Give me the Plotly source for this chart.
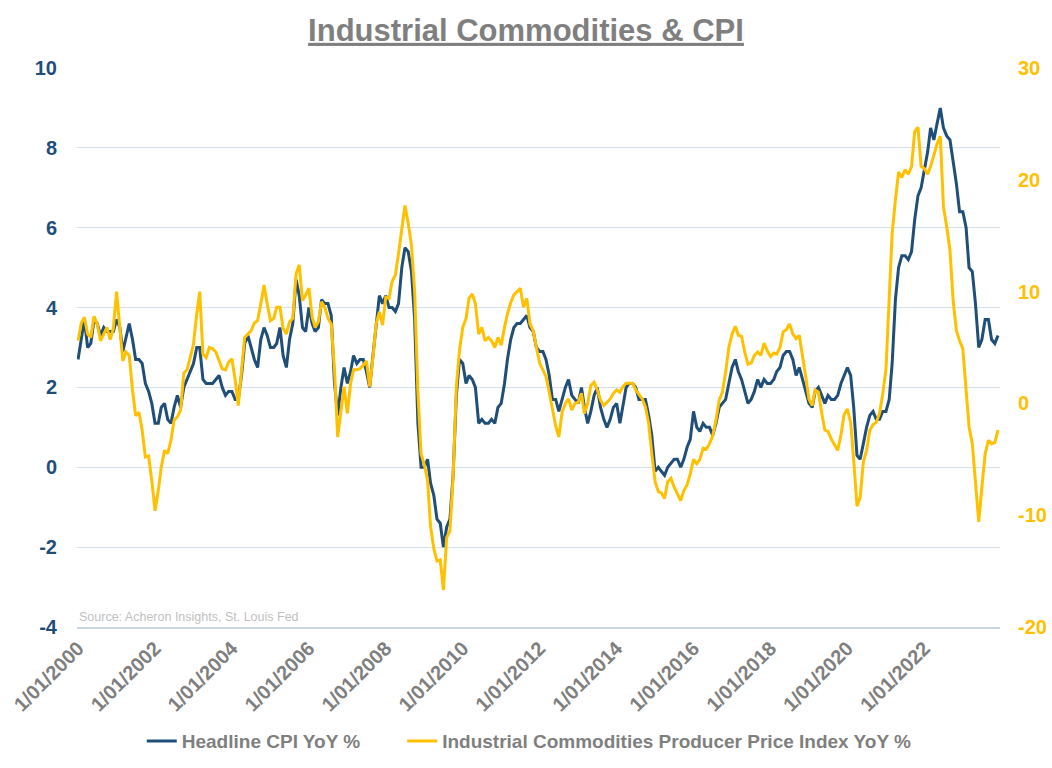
import plotly.graph_objects as go
import pandas as pd

# Monthly dates, Jan 2000 .. Dec 2023
dates = pd.date_range("2000-01-01", "2023-12-01", freq="MS")

# Headline CPI YoY % (left axis)
cpi_yoy = [
    2.7, 3.2, 3.7, 3.0, 3.1, 3.7, 3.6, 3.3, 3.5, 3.4, 3.4, 3.4,   # 2000
    3.7, 3.5, 2.9, 3.3, 3.6, 3.2, 2.7, 2.7, 2.6, 2.1, 1.9, 1.6,   # 2001
    1.1, 1.1, 1.5, 1.6, 1.2, 1.1, 1.5, 1.8, 1.5, 2.0, 2.2, 2.4,   # 2002
    2.6, 3.0, 3.0, 2.2, 2.1, 2.1, 2.1, 2.2, 2.3, 2.0, 1.8, 1.9,   # 2003
    1.9, 1.7, 1.7, 2.3, 3.1, 3.3, 3.0, 2.7, 2.5, 3.2, 3.5, 3.3,   # 2004
    3.0, 3.0, 3.1, 3.5, 2.8, 2.5, 3.2, 3.6, 4.7, 4.3, 3.5, 3.4,   # 2005
    4.0, 3.6, 3.4, 3.5, 4.2, 4.1, 4.1, 3.8, 2.1, 1.3, 2.0, 2.5,   # 2006
    2.1, 2.4, 2.8, 2.6, 2.7, 2.7, 2.4, 2.0, 2.8, 3.5, 4.3, 4.1,   # 2007
    4.3, 4.0, 4.0, 3.9, 4.1, 5.0, 5.5, 5.4, 4.9, 3.7, 1.1, 0.0,   # 2008
    0.0, 0.2, -0.4, -0.7, -1.3, -1.4, -2.0, -1.5, -1.3, -0.2, 1.8, 2.7,  # 2009
    2.6, 2.1, 2.3, 2.2, 2.0, 1.1, 1.2, 1.1, 1.1, 1.2, 1.1, 1.5,   # 2010
    1.6, 2.1, 2.7, 3.2, 3.5, 3.6, 3.6, 3.7, 3.8, 3.5, 3.4, 3.0,   # 2011
    2.9, 2.9, 2.7, 2.3, 1.7, 1.7, 1.4, 1.7, 2.0, 2.2, 1.8, 1.7,   # 2012
    1.6, 2.0, 1.5, 1.1, 1.4, 1.8, 2.0, 1.5, 1.2, 1.0, 1.2, 1.5,   # 2013
    1.6, 1.1, 1.5, 2.0, 2.1, 2.1, 2.0, 1.7, 1.7, 1.7, 1.3, 0.8,   # 2014
    -0.1, 0.0, -0.1, -0.2, 0.0, 0.1, 0.2, 0.2, 0.0, 0.2, 0.5, 0.7,  # 2015
    1.4, 1.0, 0.9, 1.1, 1.0, 1.0, 0.8, 1.1, 1.5, 1.6, 1.7, 2.1,   # 2016
    2.5, 2.7, 2.4, 2.2, 1.9, 1.6, 1.7, 1.9, 2.2, 2.0, 2.2, 2.1,   # 2017
    2.1, 2.2, 2.4, 2.5, 2.8, 2.9, 2.9, 2.7, 2.3, 2.5, 2.2, 1.9,   # 2018
    1.6, 1.5, 1.9, 2.0, 1.8, 1.6, 1.8, 1.7, 1.7, 1.8, 2.1, 2.3,   # 2019
    2.5, 2.3, 1.5, 0.3, 0.2, 0.6, 1.0, 1.3, 1.4, 1.2, 1.2, 1.4,   # 2020
    1.4, 1.7, 2.6, 4.2, 5.0, 5.3, 5.3, 5.2, 5.4, 6.2, 6.8, 7.0,   # 2021
    7.5, 7.9, 8.5, 8.2, 8.6, 9.0, 8.5, 8.3, 8.2, 7.7, 7.1, 6.4,   # 2022
    6.4, 6.0, 5.0, 4.9, 4.1, 3.0, 3.2, 3.7, 3.7, 3.2, 3.1, 3.3,   # 2023
]

# Industrial Commodities PPI YoY % (right axis)
ppi_yoy = [
    5.6, 7.2, 7.7, 6.2, 5.9, 7.8, 7.1, 5.6, 6.2, 6.8, 5.7, 6.7,   # 2000
    10.0, 6.8, 3.8, 4.6, 4.3, 1.2, -1.1, -0.8, -2.4, -4.8, -4.7, -6.9,  # 2001
    -9.6, -7.8, -5.7, -4.2, -4.5, -3.3, -1.5, -1.2, -0.6, 2.7, 3.0, 4.1,  # 2002
    5.3, 8.0, 10.0, 4.4, 4.1, 5.0, 4.9, 4.6, 3.8, 3.1, 3.0, 3.7,  # 2003
    4.0, 2.1, -0.2, 3.2, 5.9, 6.2, 6.5, 7.2, 7.4, 8.9, 10.6, 8.9,  # 2004
    7.4, 7.6, 8.6, 8.6, 6.7, 6.2, 7.3, 7.6, 11.6, 12.4, 9.2, 9.7,  # 2005
    10.3, 7.7, 6.8, 7.3, 9.1, 8.6, 7.6, 7.1, 3.0, -3.0, -0.6, 1.5,  # 2006
    -0.9, 1.8, 3.0, 3.0, 3.1, 3.4, 3.8, 1.5, 4.1, 7.1, 8.2, 7.0,  # 2007
    9.5, 9.4, 10.9, 11.5, 13.4, 15.8, 17.7, 16.1, 14.1, 10.0, 1.0, -4.5,  # 2008
    -5.5, -6.9, -11.0, -13.0, -14.1, -14.0, -16.7, -12.0, -11.4, -6.6, 1.5, 4.8,  # 2009
    6.8, 7.6, 9.4, 9.8, 8.9, 6.2, 6.8, 5.6, 5.9, 5.6, 5.0, 5.9,   # 2010
    5.2, 6.8, 8.0, 9.0, 9.7, 10.0, 10.3, 8.6, 9.4, 7.1, 6.5, 5.0,  # 2011
    3.6, 3.0, 2.4, 1.0, -0.5, -2.0, -3.0, -0.8, 0.0, 0.4, -0.6, 0.0,  # 2012
    0.1, 0.9, -0.9, 0.0, 1.6, 1.9, 1.2, 0.3, -0.2, 0.1, 0.4, 0.9,  # 2013
    1.2, 1.0, 1.5, 1.8, 1.8, 1.8, 1.2, 0.8, 0.4, -0.3, -1.8, -4.5,  # 2014
    -7.0, -7.9, -8.0, -8.5, -7.0, -6.7, -7.5, -8.1, -8.7, -7.8, -7.3, -6.3,  # 2015
    -5.0, -5.4, -5.0, -4.0, -4.1, -3.6, -2.9, -1.5, 0.3, 1.0, 2.8, 5.0,  # 2016
    6.2, 6.9, 6.1, 6.0, 4.6, 3.5, 3.6, 4.3, 4.6, 4.3, 5.4, 4.7,   # 2017
    4.2, 4.5, 4.4, 5.0, 6.4, 6.6, 7.1, 6.2, 5.8, 6.1, 4.0, 2.4,   # 2018
    0.4, -0.2, 1.2, 1.0, -0.8, -2.4, -2.5, -3.2, -3.7, -4.2, -2.8, -1.0,  # 2019
    -0.5, -1.7, -5.1, -9.2, -8.4, -5.2, -4.2, -2.4, -1.9, -1.7, -0.9, 0.8,  # 2020
    3.0, 8.8, 15.2, 18.2, 20.7, 20.2, 20.9, 20.5, 21.2, 24.3, 24.7, 21.2,  # 2021
    21.0, 20.5, 21.2, 22.2, 23.2, 23.9, 17.6, 15.8, 13.7, 9.2, 6.5, 5.6,  # 2022
    4.9, 1.2, -2.1, -3.6, -7.2, -10.6, -7.5, -4.5, -3.3, -3.6, -3.5, -2.4,  # 2023
]

tick_dates = [f"{y}-01-01" for y in range(2000, 2023, 2)]
tick_labels = [f"1/01/{y}" for y in range(2000, 2023, 2)]

left_ticks = [-4, -2, 0, 2, 4, 6, 8, 10]
left_tick_text = [str(v) for v in left_ticks]
right_ticks = [-20, -10, 0, 10, 20, 30]
right_tick_text = [str(v) for v in right_ticks]

FONT = "Liberation Sans, Arial, sans-serif"
BLUE = "#1f4e79"
GOLD = "#ffc000"
GREY = "#7f7f7f"

fig = go.Figure()
fig.add_trace(go.Scatter(
    x=dates, y=cpi_yoy, mode="lines",
    name="Headline CPI YoY %" + "&nbsp;" * 7,
    line=dict(color=BLUE, width=3),
))
fig.add_trace(go.Scatter(
    x=dates, y=ppi_yoy, name="Industrial Commodities Producer Price Index YoY %",
    mode="lines", yaxis="y2", line=dict(color=GOLD, width=3),
))

fig.update_layout(
    width=1052, height=768, autosize=False,
    margin=dict(l=77, r=52, t=68, b=141, autoexpand=False),
    paper_bgcolor="white", plot_bgcolor="white",
    font=dict(family=FONT, color=GREY),
    title=dict(
        text="<b><u>Industrial Commodities &amp; CPI</u></b>",
        x=0.5, xref="container", xanchor="center",
        y=1 - 30 / 768, yref="container", yanchor="middle",
        font=dict(family=FONT, size=31, color=GREY),
        automargin=False,
    ),
    xaxis=dict(
        type="date",
        range=["1999-12-22", "2023-12-20"],
        tickvals=tick_dates, ticktext=tick_labels,
        tickangle=-45,
        tickfont=dict(family=FONT, size=20, color=GREY, weight="bold"),
        showgrid=False, zeroline=False,
        showline=True, linecolor="#c8d6e5", linewidth=1.5,
        ticks="", automargin=False,
    ),
    yaxis=dict(
        range=[-4, 10], tickvals=left_ticks, ticktext=left_tick_text,
        tickfont=dict(family=FONT, size=20, color=BLUE, weight="bold"),
        showgrid=True, gridcolor="#d5dfea", gridwidth=1,
        zeroline=False, showline=False,
        ticks="outside", ticklen=15, tickcolor="rgba(0,0,0,0)",
        automargin=False,
    ),
    yaxis2=dict(
        range=[-20, 30], tickvals=right_ticks, ticktext=right_tick_text,
        overlaying="y", side="right",
        tickfont=dict(family=FONT, size=20, color=GOLD, weight="bold"),
        showgrid=False, zeroline=False, showline=False,
        ticks="outside", ticklen=13, tickcolor="rgba(0,0,0,0)",
        automargin=False,
    ),
    legend=dict(
        orientation="h", x=0.49, xanchor="center", y=-0.204, yanchor="middle",
        font=dict(family=FONT, size=19, color=GREY, weight="bold"),
        bgcolor="rgba(0,0,0,0)",
    ),
    annotations=[dict(
        text="Source: Acheron Insights, St. Louis Fed",
        xref="paper", yref="paper", x=0.0, y=0.018,
        xanchor="left", yanchor="middle", showarrow=False,
        font=dict(family=FONT, size=12.5, color="#bfbfbf"),
    )],
)

fig.write_html(
    "out.html",
    config={"displayModeBar": False},
    post_script="document.body.style.margin='0';",
)
